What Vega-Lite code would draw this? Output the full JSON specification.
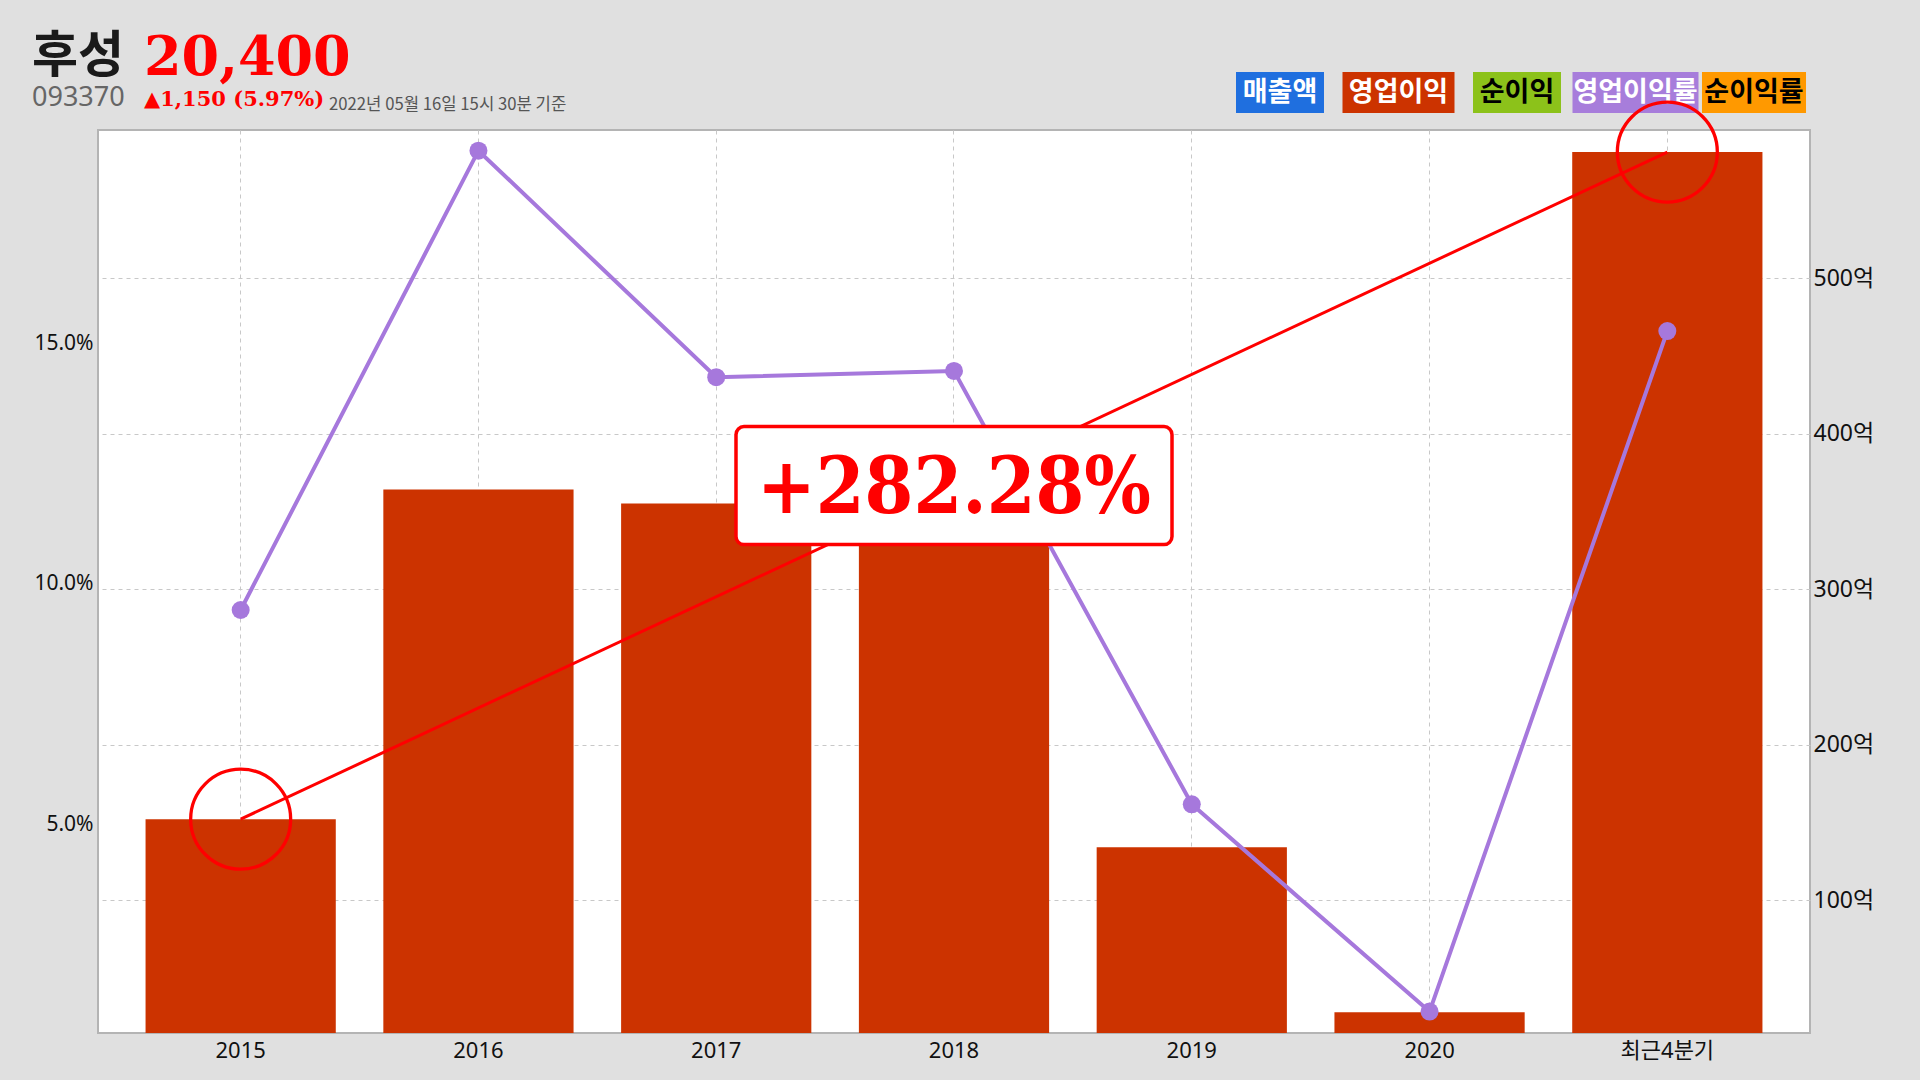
{
  "$schema": "https://vega.github.io/schema/vega-lite/v6.json",
  "background": "#e0e0e0",
  "autosize": "none",
  "padding": {"left": 98, "top": 72, "right": 1822, "bottom": 1008},
  "bounds": "flush",
  "spacing": 17,
  "config": {"view": {"stroke": null}},
  "title": {
    "text": "2022년 05월 16일 15시 30분 기준",
    "anchor": "start", "frame": "group", "dx": 231, "offset": -82,
    "font": "Noto Sans CJK KR", "fontSize": 16.7, "fontWeight": "normal", "color": "#555555"
  },
  "datasets": {
    "main": [
      {"year": "2015", "op": 152, "opm": 9.45},
      {"year": "2016", "op": 364, "opm": 19.0},
      {"year": "2017", "op": 355, "opm": 14.29},
      {"year": "2018", "op": 340, "opm": 14.42},
      {"year": "2019", "op": 134, "opm": 5.41},
      {"year": "2020", "op": 27.8, "opm": 1.1},
      {"year": "최근4분기", "op": 581, "opm": 15.25}
    ],
    "mid": [{"year": "2018", "mid": 366.5, "label": "+282.28%"}],
    "legend": [
      {"item": "매출액"}, {"item": "영업이익"}, {"item": "순이익"}, {"item": "영업이익률"}, {"item": "순이익률"}
    ]
  },
  "vconcat": [
    {
      "width": 1712, "height": 41,
      "title": {
        "text": "20,400", "subtitle": "▲1,150 (5.97%)",
        "anchor": "start", "frame": "group", "dx": 46, "offset": -38,
        "font": "DejaVu Serif", "fontSize": 54, "fontWeight": "bold", "color": "#ff0000",
        "subtitleFont": "DejaVu Serif", "subtitleFontSize": 21, "subtitleFontWeight": "bold", "subtitleColor": "#ff0000",
        "subtitlePadding": 3
      },
      "data": {"name": "legend"},
      "encoding": {
        "x": {
          "field": "item", "type": "nominal",
          "sort": ["매출액", "영업이익", "순이익", "영업이익률", "순이익률"],
          "scale": {"type": "point", "padding": 0, "range": [1182, 1656]},
          "axis": null
        }
      },
      "layer": [
        {
          "mark": {"type": "point", "filled": true, "opacity": 1, "size": 1681, "strokeWidth": 0},
          "encoding": {
            "color": {
              "field": "item", "type": "nominal",
              "scale": {"domain": ["매출액", "영업이익", "순이익", "영업이익률", "순이익률"],
                        "range": ["#1f6fdf", "#cc3300", "#8cc21a", "#a77ddb", "#ff9900"]},
              "legend": null
            },
            "shape": {
              "field": "item", "type": "nominal",
              "scale": {"domain": ["매출액", "영업이익", "순이익", "영업이익률", "순이익률"],
                        "range": ["M-2.146,-1H2.146V1H-2.146Z", "M-2.732,-1H2.732V1H-2.732Z", "M-2.146,-1H2.146V1H-2.146Z", "M-3.073,-1H3.073V1H-3.073Z", "M-2.537,-1H2.537V1H-2.537Z"]},
              "legend": null
            }
          }
        },
        {
          "mark": {"type": "text", "font": "Noto Sans CJK KR", "fontSize": 27, "fontWeight": "bold", "baseline": "middle", "align": "center"},
          "encoding": {
            "text": {"field": "item"},
            "color": {
              "field": "item", "type": "nominal",
              "scale": {"domain": ["매출액", "영업이익", "순이익", "영업이익률", "순이익률"],
                        "range": ["#ffffff", "#ffffff", "#000000", "#ffffff", "#000000"]},
              "legend": null
            }
          }
        }
      ],
      "resolve": {"scale": {"color": "independent"}}
    },
    {
      "width": 1712, "height": 903,
      "view": {"fill": "#ffffff", "stroke": "#b4b4b4", "strokeWidth": 2},
      "title": {
        "text": "후성", "subtitle": "093370",
        "anchor": "start", "frame": "group", "dx": -66, "offset": -16,
        "font": "Noto Sans CJK KR", "fontSize": 50, "fontWeight": "bold", "color": "#1a1a1a",
        "subtitleFont": "Noto Sans", "subtitleFontSize": 27, "subtitleFontWeight": "normal", "subtitleColor": "#666666",
        "subtitlePadding": 3
      },
      "data": {"name": "main"},
      "encoding": {
        "x": {
          "field": "year", "type": "nominal",
          "scale": {"domain": ["2015", "2016", "2017", "2018", "2019", "2020", "최근4분기"], "paddingInner": 0.2, "paddingOuter": 0.2},
          "axis": {
            "orient": "bottom", "title": null, "labelAngle": 0, "ticks": false, "domain": false,
            "grid": true, "gridDash": [4, 4], "gridColor": "#c8c8c8", "bandPosition": 0.5,
            "labelFont": "Noto Sans, Noto Sans CJK KR", "labelFontSize": 22, "labelColor": "#111111", "labelPadding": 7
          }
        }
      },
      "layer": [
        {
          "mark": {"type": "bar", "color": "#cc3300", "clip": true},
          "encoding": {
            "y": {
              "field": "op", "type": "quantitative",
              "scale": {"domain": [14.47, 595.2], "nice": false, "zero": false},
              "axis": {
                "orient": "right", "values": [100, 200, 300, 400, 500], "labelExpr": "datum.value + '억'",
                "grid": true, "gridDash": [4, 4], "gridColor": "#c8c8c8", "domain": false, "ticks": false, "title": null,
                "labelFont": "Noto Sans, Noto Sans CJK KR", "labelFontSize": 23, "labelColor": "#111111", "labelPadding": 3
              }
            }
          }
        },
        {
          "transform": [{"filter": {"field": "year", "oneOf": ["2015", "최근4분기"]}}],
          "mark": {"type": "line", "color": "#ff0000", "strokeWidth": 3},
          "encoding": {
            "y": {"field": "op", "type": "quantitative", "scale": {"domain": [14.47, 595.2], "nice": false, "zero": false}, "axis": null}
          }
        },
        {
          "mark": {"type": "line", "color": "#a678dc", "strokeWidth": 4,
                   "point": {"filled": true, "size": 324, "color": "#a678dc", "opacity": 1}},
          "encoding": {
            "y": {
              "field": "opm", "type": "quantitative",
              "scale": {"domain": [0.655, 19.43], "nice": false, "zero": false},
              "axis": {
                "orient": "left", "values": [5, 10, 15], "labelExpr": "format(datum.value, '.1f') + '%'",
                "grid": false, "domain": false, "ticks": false, "title": null,
                "labelFont": "Noto Sans", "labelFontSize": 21, "labelColor": "#111111", "labelPadding": 5
              }
            }
          }
        },
        {
          "transform": [{"filter": {"field": "year", "oneOf": ["2015", "최근4분기"]}}],
          "mark": {"type": "point", "shape": "circle", "size": 10000, "filled": false, "color": "#ff0000", "strokeWidth": 3.3, "opacity": 1},
          "encoding": {
            "y": {"field": "op", "type": "quantitative", "scale": {"domain": [14.47, 595.2], "nice": false, "zero": false}, "axis": null}
          }
        },
        {
          "data": {"name": "mid"},
          "mark": {
            "type": "point", "filled": true, "fill": "#ffffff", "stroke": "#ff0000", "strokeWidth": 3.5, "opacity": 1, "size": 13924,
            "shape": "M-3.56,-1 L3.56,-1 A0.136,0.136 0 0 1 3.695,-0.864 L3.695,0.864 A0.136,0.136 0 0 1 3.56,1 L-3.56,1 A0.136,0.136 0 0 1 -3.695,0.864 L-3.695,-0.864 A0.136,0.136 0 0 1 -3.56,-1 Z"
          },
          "encoding": {
            "y": {"field": "mid", "type": "quantitative", "scale": {"domain": [14.47, 595.2], "nice": false, "zero": false}, "axis": null}
          }
        },
        {
          "data": {"name": "mid"},
          "mark": {"type": "text", "font": "DejaVu Serif Condensed", "fontWeight": "bold", "fontSize": 78, "color": "#ff0000", "baseline": "middle", "align": "center", "dy": 4},
          "encoding": {
            "y": {"field": "mid", "type": "quantitative", "scale": {"domain": [14.47, 595.2], "nice": false, "zero": false}, "axis": null},
            "text": {"field": "label"}
          }
        }
      ],
      "resolve": {"scale": {"y": "independent"}, "axis": {"y": "independent"}}
    }
  ]
}
